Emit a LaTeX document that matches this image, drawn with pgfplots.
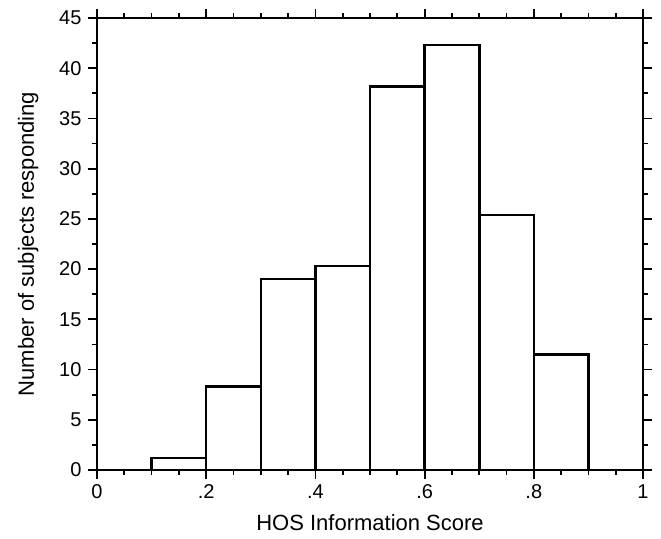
\documentclass[border=0pt]{standalone}
\usepackage{fontspec}
\setmainfont{Liberation Sans}
\usepackage{pgfplots}
\pgfplotsset{compat=1.18}
\begin{document}
\begin{tikzpicture}
\begin{axis}[
  scale only axis,
  width=546pt, height=452pt,
  xmin=0, xmax=1, ymin=0, ymax=45,
  xtick={0,0.2,0.4,0.6,0.8,1},
  xticklabels={0,.2,.4,.6,.8,1},
  minor x tick num=3,
  ytick={0,5,...,45},
  minor y tick num=1,
  tick align=outside,
  tick pos=both,
  major tick length=9pt,
  minor tick length=5pt,
  every tick/.style={black, line width=1.8pt},
  axis line style={line width=2.6pt},
  /pgf/number format/assume math mode=true,
  ticklabel style={font=\fontsize{20}{24}\selectfont},
  label style={font=\fontsize{22}{26}\selectfont},
  xlabel={HOS Information Score},
  ylabel={Number of subjects responding},
  xlabel style={yshift=-9pt},
  ylabel style={yshift=14pt},
  xticklabel style={yshift=-2pt},
  yticklabel style={xshift=-3pt},
]
\addplot[ybar interval, fill=white, draw=black, line width=2.6pt] coordinates {
  (0.1,1.2) (0.2,8.3) (0.3,19.0) (0.4,20.3) (0.5,38.2) (0.6,42.3) (0.7,25.4) (0.8,11.5) (0.9,11.5)
};
\end{axis}
\path (current axis.south west) ++(-97pt,-68pt) coordinate (bbA);
\path (current axis.north east) ++(18pt,18pt) coordinate (bbB);
\path (bbA) rectangle (bbB);
\end{tikzpicture}
\end{document}
